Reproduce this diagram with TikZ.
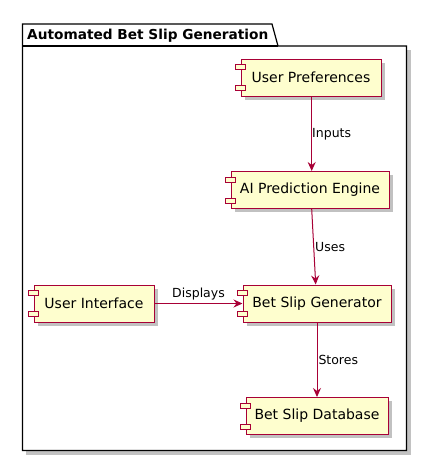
\documentclass[tikz,border=0pt]{standalone}
\usepackage{fontspec}
\setmainfont{DejaVu Sans}
\usetikzlibrary{arrows.meta,shadows}
\definecolor{bord}{HTML}{A80036}
\definecolor{fillc}{HTML}{FEFECE}
\tikzset{
  comp/.style={draw=bord, line width=1pt, fill=fillc, minimum height=37pt, inner sep=0pt,
    font=\fontsize{14}{16}\selectfont,
    drop shadow={shadow xshift=3.5pt, shadow yshift=-3.5pt, fill=black!40, opacity=.6}},
  sq/.style={draw=bord, line width=1pt, fill=fillc},
  conn/.style={draw=bord, line width=1pt, -{Stealth[length=9pt,width=8pt,inset=3pt]}},
  lbl/.style={font=\fontsize{12.5}{14}\selectfont, inner sep=0pt},
}
\begin{document}
\begin{tikzpicture}[x=1pt,y=-1pt]
\useasboundingbox (0,0) rectangle (427,461);
% package shadow
\fill[black!40,opacity=.6] (26,50) rectangle (410.5,454.5);
% package
\draw[line width=1.2pt, fill=white] (22.5,46) -- (22.5,24) -- (272,24) -- (278,46) -- (406.5,46) -- (406.5,450.5) -- (22.5,450.5) -- cycle;
\draw[line width=1.2pt] (22.5,46) -- (278,46);
\node[anchor=west, inner sep=0pt, font=\bfseries\fontsize{13.7}{16}\selectfont] (pkg) at (27,35.5) {Automated Bet Slip Generation};
% components
\node[comp, minimum width=140pt] (up) at (311,77.5) {User Preferences};
\node[comp, minimum width=158pt] (ai) at (310,190) {AI Prediction Engine};
\node[comp, minimum width=148pt] (bsg) at (317,303.5) {Bet Slip Generator};
\node[comp, minimum width=120pt] (ui) at (94,303.5) {User Interface};
\node[comp, minimum width=142pt] (db) at (317,416) {Bet Slip Database};
\foreach \n in {up,ai,bsg,ui,db}{
  \draw[sq] ([xshift=-5pt,yshift=-6pt]\n.north west) rectangle ++(10,5);
  \draw[sq] ([xshift=-5pt,yshift=6pt]\n.south west) rectangle ++(10,-5);
}
% connectors
\draw[conn] ([xshift=0.7pt]up.south) -- node[lbl, right, xshift=0pt] {Inputs} ([xshift=1.7pt]ai.north);
\draw[conn] ([xshift=1.7pt]ai.south) -- node[lbl, right, xshift=1pt] {Uses} ([xshift=-1.3pt]bsg.north);
\draw[conn] (bsg.south) -- node[lbl, right, xshift=1pt] {Stores} (db.north);
\draw[conn] (ui.east) -- node[lbl, above, yshift=3pt] {Displays} (bsg.west);
\end{tikzpicture}
\end{document}
